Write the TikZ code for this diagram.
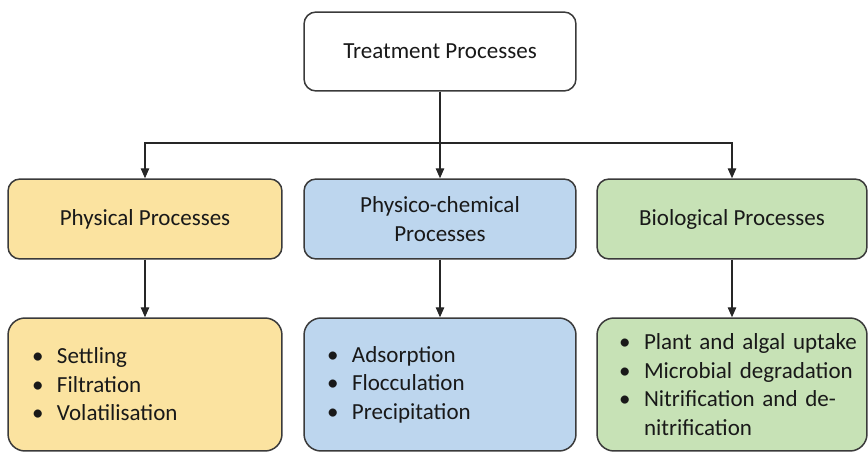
\documentclass[tikz,border=0pt]{standalone}
\usepackage{fontspec}
\setmainfont{Carlito}
\usetikzlibrary{arrows.meta,positioning}
\definecolor{physfill}{HTML}{FBE3A0}
\definecolor{chemfill}{HTML}{BDD6EE}
\definecolor{biofill}{HTML}{C7E2B6}
\definecolor{edge}{HTML}{3A3A3A}
\newcommand{\bitem}{\hspace*{0.44cm}\makebox[0.5cm][l]{\textbullet}}

\begin{document}
\begin{tikzpicture}[x=0.02cm,y=-0.02cm]
\tikzstyle{box}=[draw=edge,line width=0.85pt,rounded corners=0.24cm,font=\fontsize{13.1}{16.2}\selectfont,text=black!90,inner sep=0pt]
\tikzstyle{head}=[box,minimum height=1.6cm,align=center]
\tikzstyle{list}=[box,rounded corners=0.34cm,minimum height=2.66cm,align=left,text width=5.4cm]
\tikzstyle{arr}=[line width=0.75pt,draw=black!85,-{Triangle[length=0.2cm,width=0.17cm]}]
\useasboundingbox (0,0) rectangle (868,453);

\node[box,fill=white,minimum width=5.44cm,minimum height=1.58cm] (treat) at (440,51.5) {Treatment Processes};

\node[head,fill=physfill,minimum width=5.48cm] (phys) at (145,219) {Physical Processes};
\node[head,fill=chemfill,minimum width=5.44cm] (chem) at (440,219) {Physico-chemical\\Processes};
\node[head,fill=biofill,minimum width=5.4cm] (bio) at (732,219) {Biological Processes};

\node[list,fill=physfill,minimum width=5.48cm] (physl) at (145,384.5) {\bitem Settling\\\bitem Filtration\\\bitem Volatilisation};
\node[list,fill=chemfill,minimum width=5.44cm] (cheml) at (440,384.5) {\bitem Adsorption\\\bitem Flocculation\\\bitem Precipitation};
\node[list,fill=biofill,minimum width=5.4cm] (biol) at (732,384.5) {\bitem Plant and algal uptake\\\bitem Microbial degradation\\\bitem Nitrification and de-\\\hspace*{0.94cm}nitrification};

% split below the top box
\coordinate (split) at (440,143);
\draw[arr] (treat.south) -- (chem.north);
\draw[arr] (split) -| (phys.north);
\draw[arr] (split) -| (bio.north);

\draw[arr] (phys.south) -- (physl.north);
\draw[arr] (chem.south) -- (cheml.north);
\draw[arr] (bio.south) -- (biol.north);
\end{tikzpicture}
\end{document}
